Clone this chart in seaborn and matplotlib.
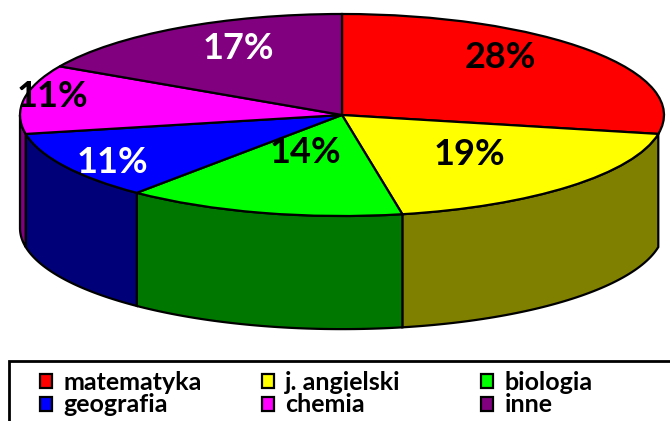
import numpy as np
import matplotlib
matplotlib.use('Agg')
import matplotlib.pyplot as plt
import matplotlib.patches as mpatches
import seaborn as sns

# dane
przedmioty = ['matematyka', 'j. angielski', 'biologia', 'geografia', 'chemia', 'inne']
procenty = [28, 19, 14, 11, 11, 17]
kolory_gora = ['#ff0000', '#ffff00', '#00ff00', '#0000ff', '#ff00ff', '#800080']
kolory_bok = ['#800000', '#808000', '#007800', '#000078', '#800080', '#400040']
kolory_tekstu = ['black', 'black', 'black', 'white', 'black', 'white']
# przesuniecie etykiet procentowych (promien w poziomie, w pionie)
etykiety_r = [(0.64, 0.90), (0.56, 0.56), (0.46, 0.38), (0.83, 0.93), (0.91, 1.14), (0.635, 0.77)]

sns.set_style('white')
plt.rcParams['font.family'] = ['Lato', 'DejaVu Sans']
plt.rcParams['text.color'] = 'black'

W, H = 670, 421
fig = plt.figure(figsize=(W / 100, H / 100), dpi=100)
ax = fig.add_axes([0, 0, 1, 1])

wedges, texts, autotexts = ax.pie(
    procenty, colors=kolory_gora, startangle=90, counterclock=False,
    autopct='%1.0f%%', pctdistance=0.6,
    wedgeprops=dict(edgecolor='black', linewidth=1.6, zorder=3),
    textprops=dict(fontsize=26, fontweight='bold'))

# wysokosc bocznej scianki (w jednostkach promienia w pionie)
grubosc = 1.12

# boczne scianki - tylko przednia polowa (kat od -180 do 0)
for w, kol in zip(wedges, kolory_bok):
    t_lo, t_hi = sorted([w.theta1, w.theta2])
    # sprowadz do zakresu -360..0
    while t_hi > 0:
        t_lo -= 360
        t_hi -= 360
    lo = max(t_lo, -180)
    hi = min(t_hi, 0)
    if hi <= lo:
        continue
    t = np.radians(np.linspace(lo, hi, 60))
    xs = np.concatenate([np.cos(t), np.cos(t[::-1])])
    ys = np.concatenate([np.sin(t), np.sin(t[::-1]) - grubosc])
    ax.fill(xs, ys, facecolor=kol, edgecolor='black', linewidth=1.6, zorder=1)

for at, kol, (rx, ry), w in zip(autotexts, kolory_tekstu, etykiety_r, wedges):
    mid = np.radians((w.theta1 + w.theta2) / 2)
    at.set_position((rx * np.cos(mid), ry * np.sin(mid)))
    at.set_color(kol)
    at.set_zorder(4)

# skala: promien 322 px w poziomie, 101 px w pionie, srodek w (342, 115)
ax.set_aspect('auto')
ax.set_xlim(-342 / 322, (W - 342) / 322)
ax.set_ylim(-(H - 115) / 101, 115 / 101)
ax.axis('off')

# legenda - trzy kolumny, kazda jako osobna legenda (stale odstepy jak w Excelu)
kolumny_x = [27, 249, 468]
for k, x0 in enumerate(kolumny_x):
    idx = [k, k + 3]
    leg = fig.legend([wedges[i] for i in idx], [przedmioty[i] for i in idx],
                     loc='upper left', bbox_to_anchor=(x0 / W, 1 - 358 / H),
                     frameon=False, prop=dict(size=18, weight='bold'),
                     labelcolor='black',
                     handlelength=0.5, handleheight=0.5, handletextpad=0.45,
                     labelspacing=0.0, borderpad=0.0)
ramka = mpatches.Rectangle((9 / W, -0.1), 1.2, (421 - 361) / H + 0.1,
                           transform=fig.transFigure, fill=False,
                           edgecolor='black', linewidth=2)
fig.patches.append(ramka)

fig.savefig('out.png', dpi=100)
